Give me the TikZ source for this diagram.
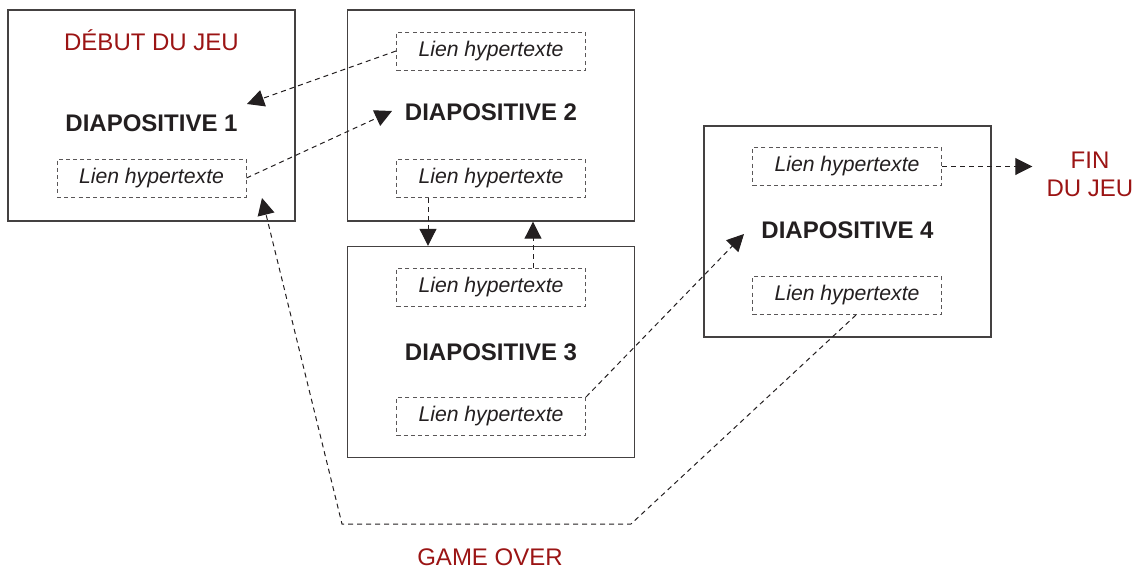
\documentclass[tikz,border=0pt]{standalone}
\usepackage{fontspec}
\setmainfont{Liberation Sans}
\usepackage{xcolor}
\usetikzlibrary{calc, arrows.meta, positioning}

\definecolor{jeured}{RGB}{155,20,20}
\definecolor{ink}{RGB}{35,31,32}

\begin{document}
\begin{tikzpicture}[x=0.5pt, y=-0.5pt, >=latex, font=\fontsize{12}{14}\selectfont, text=ink]
		\tikzstyle{slide} = [draw=ink!85, line width=0.7pt, rectangle, minimum width=143.5pt, minimum height=105.5pt]
		\tikzstyle{linkbox} = [draw=ink!75, rectangle, dash pattern=on 2pt off 1.6pt, line width=0.5pt, minimum width=94.5pt, minimum height=19pt, inner sep=0pt, font=\fontsize{10.6}{12}\selectfont\itshape]
		\tikzstyle{slidetitle} = [inner sep=0pt, font=\fontsize{12}{14}\selectfont\bfseries]
		\tikzstyle{redtext} = [inner sep=0pt, text=jeured, align=center]
		\tikzstyle{arrow} = [draw=ink, line width=0.5pt, dash pattern=on 2.5pt off 2pt, -{Triangle[length=8.5pt, width=8.5pt]}]
		
		\useasboundingbox (0, 0) rectangle (1137, 568);
		
		% slides
		\node[slide]		at (151.5, 115.5)	(s1)	{};
		\node[slide]		at (491, 115.5)		(s2)	{};
		\node[slide]		at (491, 352)		(s3)	{};
		\node[slide]		at (847.5, 231.5)	(s4)	{};
		
		\node[slidetitle]	at (151.5, 123)		(t1)	{DIAPOSITIVE 1};
		\node[slidetitle]	at (491, 112)		(t2)	{DIAPOSITIVE 2};
		\node[slidetitle]	at (491, 352)		(t3)	{DIAPOSITIVE 3};
		\node[slidetitle]	at (847.5, 230)		(t4)	{DIAPOSITIVE 4};
		
		% hyperlinks
		\node[linkbox]		at (151.5, 178)		(l1)	{Lien hypertexte};
		\node[linkbox]		at (491, 51)		(l2a)	{Lien hypertexte};
		\node[linkbox]		at (491, 178.5)		(l2b)	{Lien hypertexte};
		\node[linkbox]		at (491, 287)		(l3a)	{Lien hypertexte};
		\node[linkbox]		at (491, 416.5)		(l3b)	{Lien hypertexte};
		\node[linkbox]		at (847, 166.5)		(l4a)	{Lien hypertexte};
		\node[linkbox]		at (847, 295.5)		(l4b)	{Lien hypertexte};
		
		% game states
		\node[redtext]		at (151.5, 40)		(debut)	{DÉBUT DU JEU};
		\node[redtext]		at (1090, 174)		(fin)	{FIN\\DU JEU};
		\node[redtext]		at (490, 557)		(over)	{GAME OVER};
		
		\coordinate (a1) at (247, 104);
		\coordinate (a2) at (392, 111);
		\coordinate (a5) at (744, 234);
		\coordinate (a7) at (262, 198);
		\coordinate (g1) at (342, 524);
		\coordinate (g2) at (631, 524);
		
		\draw [arrow] (l2a.west) -- (a1);
		\draw [arrow] (l1.east) -- (a2);
		\draw [arrow] ($(l2b.south)+(-63, 0)$) -- ($(s3.north)+(-63, 0)$);
		\draw [arrow] ($(l3a.north)+(42, 0)$) -- ($(s2.south)+(42, 0)$);
		\draw [arrow] (l3b.north east) -- (a5);
		\draw [arrow, shorten >=7pt] (l4a.east) -- (l4a.east -| fin.west);
		\draw [arrow] ($(l4b.south)+(9, 0)$) -- (g2) -- (g1) -- (a7);
	\end{tikzpicture}
\end{document}
